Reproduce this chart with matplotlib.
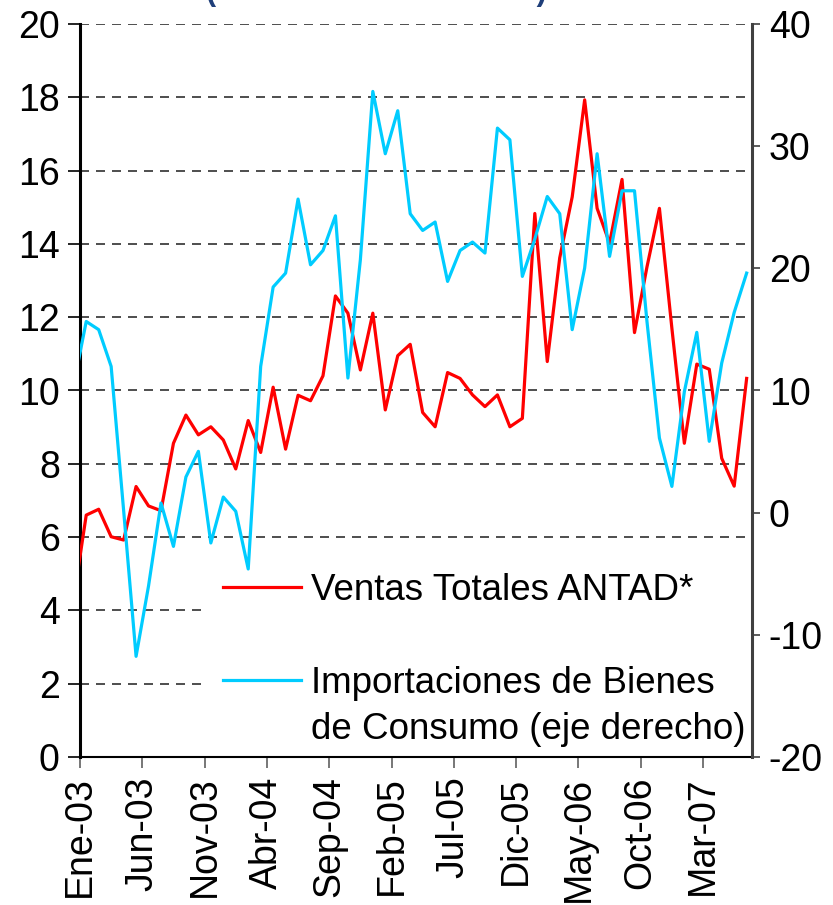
import matplotlib.pyplot as plt
from matplotlib.lines import Line2D
from matplotlib.patches import Rectangle
import numpy as np

plt.rcParams['font.family'] = ['Liberation Sans', 'DejaVu Sans']
plt.rcParams['axes.unicode_minus'] = False

# Ventas Totales ANTAD (eje izquierdo)
ventas = [4.34, 6.60, 6.76, 6.01, 5.92, 7.38, 6.85, 6.72, 8.56, 9.33,
          8.79, 9.01, 8.65, 7.86, 9.18, 8.31, 10.09, 8.40, 9.87, 9.72,
          10.40, 12.58, 12.11, 10.56, 12.11, 9.47, 10.95, 11.26, 9.40, 9.01,
          10.49, 10.33, 9.88, 9.56, 9.88, 9.01, 9.24, 14.83, 10.79, 13.62,
          15.28, 17.93, 14.97, 14.02, 15.76, 11.58, 13.37, 14.97, 11.70, 8.56,
          10.72, 10.58, 8.15, 7.39, 10.33]

# Importaciones de bienes de consumo (eje derecho)
importaciones = [10.5, 15.65, 14.98, 11.97, 0.2, -11.76, -6.0, 0.79, -2.76, 2.92,
                 5.02, -2.48, 1.28, 0.11, -4.61, 11.97, 18.47, 19.61, 25.67, 20.29,
                 21.46, 24.30, 11.02, 20.70, 34.48, 29.38, 32.90, 24.47, 23.10, 23.79,
                 18.93, 21.46, 22.15, 21.25, 31.48, 30.52, 19.34, 22.40, 25.88, 24.47,
                 14.98, 20.02, 29.38, 20.98, 26.35, 26.35, 15.66, 6.11, 2.15, 9.9,
                 14.76, 5.84, 12.25, 16.39, 19.61]

tick_labels = ['Ene-03', 'Jun-03', 'Nov-03', 'Abr-04', 'Sep-04', 'Feb-05',
               'Jul-05', 'Dic-05', 'May-06', 'Oct-06', 'Mar-07']

left_ticks = list(range(0, 21, 2))
right_ticks = list(range(-20, 41, 10))

fs = 27

fig = plt.figure(figsize=(8.33, 9.05), dpi=100)
ax1 = fig.add_axes([80 / 833, 1 - 757 / 905, 672 / 833, 733 / 905])
ax2 = ax1.twinx()

t = np.arange(len(ventas))
ax1.plot(t, ventas, color='#ff0000', lw=2.3, zorder=3)
ax2.plot(t, importaciones, color='#00ccff', lw=2.3, zorder=3)

ax1.set_xlim(0.5, 54.43)
ax1.set_ylim(0, 20)
ax2.set_ylim(-20, 40)
ax1.set_yticks(left_ticks)
ax2.set_yticks(right_ticks)
ax1.set_xticks(0.5 + 5 * np.arange(len(tick_labels)))
ax1.set_xticklabels(tick_labels, rotation=90)

ax1.yaxis.grid(True, color='#303030', lw=1.2, linestyle=(0, (5.4, 4.2)))
ax1.set_axisbelow(True)

for a in (ax1, ax2):
    a.spines['top'].set_visible(False)
ax1.spines['left'].set_linewidth(2.2)
ax1.spines['bottom'].set_linewidth(1.5)
ax2.spines['right'].set_linewidth(2.2)
ax2.spines['right'].set_color('#404040')
ax2.spines['left'].set_visible(False)
ax2.spines['bottom'].set_visible(False)

ax1.tick_params(axis='y', labelsize=fs, length=8.5, width=1.2, pad=6, direction='out')
ax1.tick_params(axis='x', labelsize=fs, length=8, width=1.2, pad=6, color='#606060')
ax2.tick_params(axis='y', labelsize=fs, length=6, width=1.2, pad=6, color='#404040')

# white box behind the legend (hides the grid lines like the original)
ax2.add_patch(Rectangle((0.186, 0.01), 0.811, 0.242, transform=ax2.transAxes,
                        facecolor='white', edgecolor='none', zorder=4))

handles = [Line2D([], [], color='#ff0000', lw=2.3),
           Line2D([], [], color='none'),
           Line2D([], [], color='#00ccff', lw=2.3),
           Line2D([], [], color='none')]
labels = ['Ventas Totales ANTAD*', ' ', 'Importaciones de Bienes',
          'de Consumo (eje derecho)']
leg = ax2.legend(handles, labels, loc='upper left',
                 bbox_to_anchor=(0.2128, 0.251), frameon=False, fontsize=26.5,
                 borderpad=0, borderaxespad=0, handlelength=2.13,
                 handletextpad=0.25, labelspacing=0.31)
leg.set_zorder(5)

fig.text(0.452, 1.0, '(variación % anual real)', ha='center', va='baseline',
         fontsize=22, fontweight='bold', color='#1f3f7a')

fig.savefig('out.png', dpi=100)
